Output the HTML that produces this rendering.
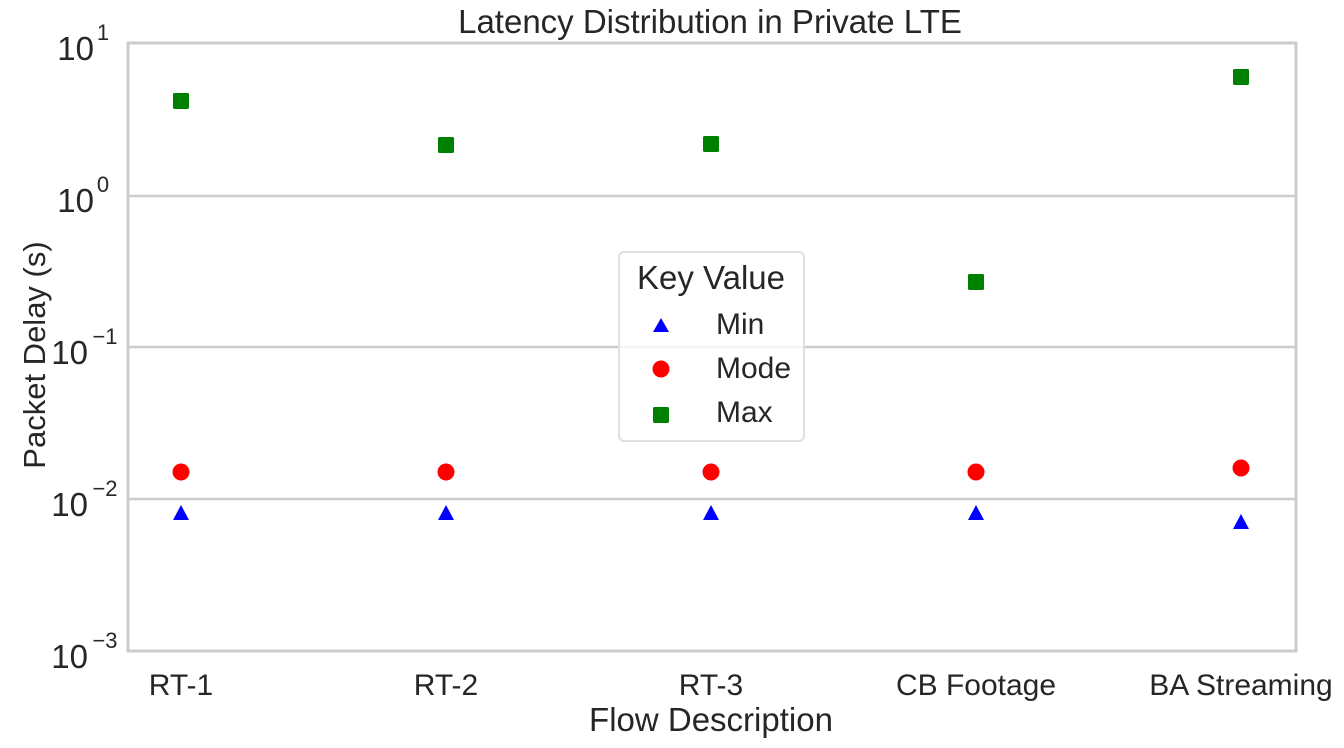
<!DOCTYPE html>
<html><head><meta charset="utf-8"><style>html,body{margin:0;padding:0;background:#fff}svg{display:block}</style></head>
<body>
<svg width="1344" height="748" viewBox="0 0 1344 748" xmlns="http://www.w3.org/2000/svg" font-family="Liberation Sans, sans-serif" fill="#262626">
<rect width="1344" height="748" fill="#fff"/>
<g stroke="#cccccc" stroke-width="2.5">
<line x1="128" y1="196" x2="1296" y2="196"/>
<line x1="128" y1="347" x2="1296" y2="347"/>
<line x1="128" y1="499" x2="1296" y2="499"/>
</g>
<rect x="128" y="43" width="1168" height="608" fill="none" stroke="#cccccc" stroke-width="3"/>
<text x="710" y="33" font-size="33" text-anchor="middle">Latency Distribution in Private LTE</text>
<g font-size="33" text-anchor="end">
<text x="94" y="60">10</text><text x="103" y="40" font-size="22" text-anchor="middle">1</text>
<text x="94" y="212">10</text><text x="103" y="192" font-size="22" text-anchor="middle">0</text>
<text x="88" y="364">10</text><text x="105" y="344" font-size="22" text-anchor="middle">−1</text>
<text x="88" y="516">10</text><text x="105" y="496" font-size="22" text-anchor="middle">−2</text>
<text x="88" y="668">10</text><text x="105" y="648" font-size="22" text-anchor="middle">−3</text>
</g>
<g font-size="30" text-anchor="middle">
<text x="181" y="695">RT-1</text><text x="446" y="695">RT-2</text><text x="711" y="695">RT-3</text><text x="976" y="695">CB Footage</text><text x="1241" y="695">BA Streaming</text>
</g>
<text x="711" y="731" font-size="33" text-anchor="middle">Flow Description</text>
<text transform="translate(45,355) rotate(-90)" font-size="31" text-anchor="middle">Packet Delay (s)</text>
<g fill="#008000">
<rect x="173" y="93" width="16" height="16" rx="1.5"/>
<rect x="438" y="137" width="16" height="16" rx="1.5"/>
<rect x="703" y="136" width="16" height="16" rx="1.5"/>
<rect x="968" y="274" width="16" height="16" rx="1.5"/>
<rect x="1233" y="69" width="16" height="16" rx="1.5"/>
</g>
<g fill="#ff0000">
<circle cx="181" cy="472" r="8.5"/><circle cx="446" cy="472" r="8.5"/><circle cx="711" cy="472" r="8.5"/><circle cx="976" cy="472" r="8.5"/><circle cx="1241" cy="468" r="8.5"/>
</g>
<g fill="#0000ff">
<polygon points="181,505 173,520 189,520"/><polygon points="446,505 438,520 454,520"/><polygon points="711,505 703,520 719,520"/><polygon points="976,505 968,520 984,520"/><polygon points="1241,514 1233,529 1249,529"/>
</g>
<rect x="619" y="252" width="185" height="189" rx="5" fill="#fff" fill-opacity="0.8" stroke="#e0e0e0" stroke-width="2"/>
<text x="711" y="289" font-size="33" text-anchor="middle">Key Value</text>
<polygon points="661,318 653,332 669,332" fill="#0000ff"/>
<circle cx="661" cy="369" r="8.5" fill="#ff0000"/>
<rect x="653" y="407" width="16" height="16" rx="1.5" fill="#008000"/>
<g font-size="30">
<text x="716" y="334">Min</text><text x="716" y="378">Mode</text><text x="716" y="422">Max</text>
</g>
</svg>
</body></html>
